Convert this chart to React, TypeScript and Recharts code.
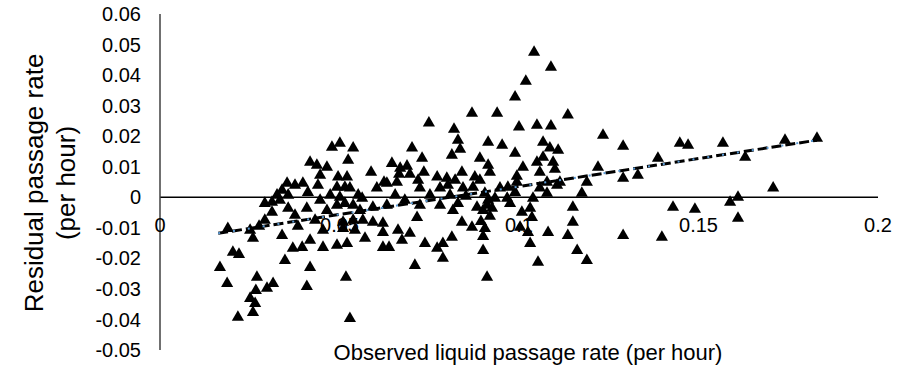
import React from 'react';
import { ScatterChart, Scatter, XAxis, YAxis, ZAxis, ReferenceLine } from 'recharts';

// observed liquid passage rate (per hour)
const obsX = [
  0.0189, 0.0203, 0.0220, 0.0167, 0.0187, 0.0270, 0.0267, 0.0315, 0.0298, 0.0265,
  0.0259, 0.0217, 0.0251, 0.0259, 0.0276, 0.0251, 0.0340, 0.0348, 0.0370, 0.0396,
  0.0418, 0.0292, 0.0312, 0.0292, 0.0312, 0.0334, 0.0357, 0.0326, 0.0340, 0.0357,
  0.0354, 0.0376, 0.0398, 0.0376, 0.0409, 0.0412, 0.0418, 0.0437, 0.0465, 0.0446,
  0.0479, 0.0501, 0.0538, 0.0524, 0.0496, 0.0521, 0.0493, 0.0515, 0.0465, 0.0493,
  0.0515, 0.0418, 0.0409, 0.0454, 0.0493, 0.0521, 0.0454, 0.0510, 0.0518, 0.0529,
  0.0510, 0.0538, 0.0432, 0.0384, 0.0446, 0.0474, 0.0440, 0.0501, 0.0588, 0.0646,
  0.0624, 0.0669, 0.0688, 0.0702, 0.0730, 0.0749, 0.0819, 0.0830, 0.0836, 0.0813,
  0.0666, 0.0696, 0.0735, 0.0772, 0.0799, 0.0822, 0.0841, 0.0877, 0.0891, 0.0719,
  0.0529, 0.0604, 0.0632, 0.0660, 0.0724, 0.0780, 0.0802, 0.0844, 0.0872, 0.0538,
  0.0593, 0.0632, 0.0724, 0.0780, 0.0830, 0.0883, 0.0911, 0.0565, 0.0593, 0.0621,
  0.0716, 0.0841, 0.0869, 0.0571, 0.0621, 0.0621, 0.0638, 0.0663, 0.0674, 0.0696,
  0.0738, 0.0772, 0.0788, 0.0813, 0.0788, 0.0710, 0.0900, 0.0911, 0.0900, 0.0894,
  0.0919, 0.0925, 0.0816, 0.0891, 0.0914, 0.0914, 0.0953, 0.0869, 0.0939, 0.0919,
  0.0852, 0.0552, 0.0563, 0.0557, 0.0655, 0.0682, 0.0752, 0.0808, 0.0543, 0.0947,
  0.0975, 0.0933, 0.1042, 0.1089, 0.1019, 0.0989, 0.1136, 0.1000, 0.1050, 0.1089,
  0.1234, 0.1290, 0.0989, 0.1067, 0.1086, 0.1109, 0.1050, 0.1067, 0.1095, 0.1011,
  0.0994, 0.1058, 0.1100, 0.1220, 0.1290, 0.0994, 0.1078, 0.1114, 0.1189, 0.1058,
  0.1078, 0.1106, 0.1175, 0.0989, 0.0969, 0.0967, 0.0905, 0.0914, 0.0900, 0.0905,
  0.1008, 0.1031, 0.1036, 0.1003, 0.1025, 0.1031, 0.1081, 0.1136, 0.1150, 0.1150,
  0.1162, 0.1189, 0.1053, 0.1290, 0.1039, 0.1331, 0.1387, 0.1448, 0.1471, 0.1568,
  0.1630, 0.1741, 0.1830, 0.1708, 0.1429, 0.1490, 0.1588, 0.1610, 0.1610, 0.1398,
];

// residual passage rate (per hour)
const residY = [
  -0.0102, -0.0180, -0.0187, -0.0230, -0.0282, -0.0262, -0.0305, -0.0282, -0.0298, -0.0348,
  -0.0377, -0.0393, -0.0331, -0.0134, -0.0095, -0.0108, -0.0125, -0.0207, -0.0167, -0.0164,
  -0.0141, -0.0075, -0.0049, -0.0020, -0.0016, -0.0010, -0.0036, 0.0007, 0.0023, 0.0007,
  0.0046, 0.0039, 0.0046, -0.0059, -0.0036, 0.0016, 0.0115, 0.0105, 0.0098, 0.0072,
  0.0164, 0.0177, 0.0161, 0.0121, 0.0066, 0.0066, 0.0033, 0.0033, -0.0043, -0.0026,
  -0.0020, -0.0230, -0.0292, -0.0164, -0.0157, -0.0151, -0.0108, -0.0102, -0.0262, -0.0397,
  -0.0082, -0.0075, -0.0075, -0.0095, -0.0010, 0.0007, 0.0039, 0.0000, 0.0082, 0.0111,
  0.0049, 0.0095, 0.0102, 0.0161, 0.0128, 0.0243, 0.0223, 0.0187, 0.0157, 0.0138,
  0.0075, 0.0075, 0.0082, 0.0066, 0.0062, 0.0056, 0.0082, 0.0066, 0.0056, 0.0056,
  0.0030, 0.0030, 0.0046, 0.0049, 0.0030, 0.0030, 0.0039, 0.0030, 0.0033, -0.0026,
  -0.0033, -0.0026, -0.0026, -0.0026, -0.0020, -0.0033, -0.0026, -0.0075, -0.0082, -0.0085,
  -0.0066, -0.0082, -0.0098, -0.0134, -0.0115, -0.0164, -0.0164, -0.0108, -0.0141, -0.0118,
  -0.0151, -0.0167, -0.0151, -0.0131, -0.0200, -0.0223, -0.0174, -0.0262, -0.0128, -0.0079,
  -0.0062, -0.0036, -0.0043, 0.0128, 0.0105, 0.0180, 0.0170, 0.0275, 0.0275, 0.0082,
  0.0003, 0.0007, -0.0003, -0.0043, 0.0007, -0.0010, 0.0007, 0.0007, -0.0108, 0.0030,
  -0.0020, -0.0003, 0.0475, 0.0426, 0.0380, 0.0328, 0.0269, 0.0230, 0.0236, 0.0233,
  0.0203, 0.0167, 0.0144, 0.0180, 0.0161, 0.0154, 0.0115, 0.0131, 0.0115, 0.0098,
  0.0069, 0.0082, 0.0092, 0.0098, 0.0062, 0.0049, 0.0049, 0.0049, 0.0049, 0.0030,
  0.0013, 0.0039, 0.0013, 0.0016, 0.0033, -0.0003, 0.0013, -0.0010, -0.0043, -0.0102,
  -0.0049, -0.0036, -0.0066, -0.0098, -0.0115, -0.0151, -0.0115, -0.0125, -0.0033, -0.0082,
  -0.0174, -0.0207, -0.0213, -0.0125, -0.0003, 0.0072, 0.0128, 0.0177, 0.0170, 0.0177,
  0.0131, 0.0187, 0.0193, 0.0030, -0.0033, -0.0039, -0.0016, 0.0000, -0.0069, -0.0131,
];

// linear trend line end points
const trendX = [0.0162, 0.183];
const trendY = [-0.0118, 0.0187];

const xTicks = [0, 0.05, 0.1, 0.15, 0.2];
const yTicks = [-0.05, -0.04, -0.03, -0.02, -0.01, 0, 0.01, 0.02, 0.03, 0.04, 0.05, 0.06];

const W = 917;
const H = 374;
const MARGIN = { top: 14, right: 39, bottom: 0, left: 0 };
const X_AXIS_H = 24;
const Y_MIN = -0.05;
const Y_MAX = 0.06;
const PLOT_H = H - MARGIN.top - MARGIN.bottom - X_AXIS_H;
const ZERO_Y = MARGIN.top + (PLOT_H * (Y_MAX - 0)) / (Y_MAX - Y_MIN);
const FONT = 'Arial, "Liberation Sans", sans-serif';

const fmt = (v: number) => String(Number(v.toFixed(2)));

const points = obsX.map((x, i) => ({ x, y: residY[i] }));
const trend = trendX.map((x, i) => ({ x, y: trendY[i] }));

// x tick labels sit just under the zero line, like Excel's crossing axis
const XTick = (props: any) => {
  const { x, payload } = props;
  return (
    <text x={x} y={ZERO_Y + 28} textAnchor="middle" dominantBaseline="central" fill="#000" fontSize={20} fontFamily={FONT}>
      {fmt(payload.value)}
    </text>
  );
};

const NoShape = () => <g />;

export default function App() {
  return (
    <div style={{ position: 'absolute', left: 0, top: 0, width: W, height: H, background: '#fff', fontFamily: FONT }}>
      <ScatterChart width={W} height={H} margin={MARGIN}>
        <XAxis
          type="number"
          dataKey="x"
          domain={[0, 0.2]}
          ticks={xTicks}
          interval={0}
          height={X_AXIS_H}
          axisLine={false}
          tickLine={false}
          tick={XTick}
        />
        <YAxis
          type="number"
          dataKey="y"
          domain={[Y_MIN, Y_MAX]}
          ticks={yTicks}
          interval={0}
          width={160}
          axisLine={{ stroke: '#404040', strokeWidth: 1.5 }}
          tickLine={false}
          tickSize={0}
          tickMargin={19}
          tickFormatter={fmt}
          tick={{ fill: '#000', fontSize: 20, fontFamily: FONT }}
        />
        <ZAxis range={[85, 85]} />
        <ReferenceLine y={0} stroke="#000" strokeWidth={1.5} />
        <Scatter data={points} shape="triangle" fill="#000" isAnimationActive={false} />
        <Scatter
          data={trend}
          shape={<NoShape />}
          line={{ stroke: '#000', strokeWidth: 3, strokeDasharray: '10 4' }}
          isAnimationActive={false}
        />
        <Scatter
          data={trend}
          shape={<NoShape />}
          line={{ stroke: '#5b9bd5', strokeWidth: 2, strokeDasharray: '2 13' }}
          isAnimationActive={false}
        />
      </ScatterChart>
      <div
        style={{
          position: 'absolute',
          left: 50,
          top: 183,
          transform: 'translate(-50%, -50%) rotate(-90deg)',
          whiteSpace: 'nowrap',
          textAlign: 'center',
          fontSize: 26,
          lineHeight: '32px',
          color: '#000',
        }}
      >
        Residual passage rate
        <br />
        (per hour)
      </div>
      <div
        style={{
          position: 'absolute',
          left: 528,
          top: 353,
          transform: 'translate(-50%, -50%)',
          whiteSpace: 'nowrap',
          fontSize: 22,
          color: '#000',
        }}
      >
        Observed liquid passage rate (per hour)
      </div>
    </div>
  );
}
